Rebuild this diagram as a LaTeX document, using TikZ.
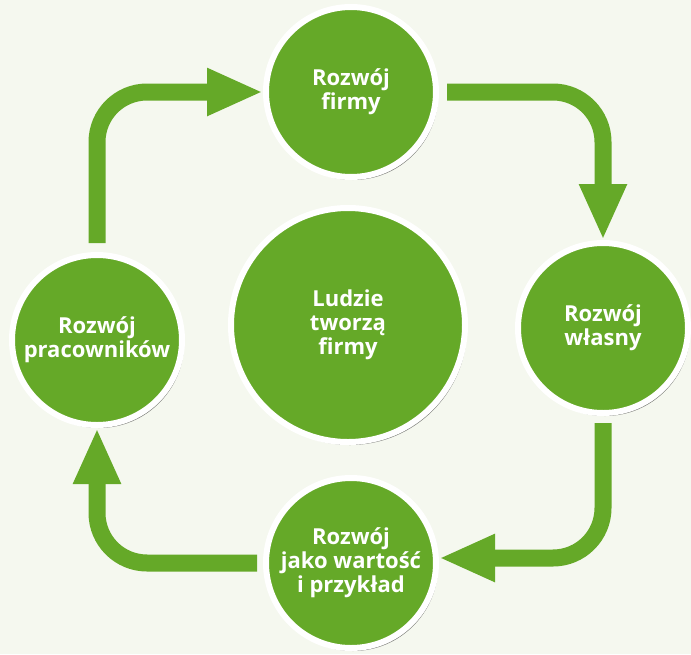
\documentclass[tikz,border=0pt]{standalone}
\usepackage{fontspec}
\setmainfont{Open Sans}
\usetikzlibrary{arrows.meta,shadows}
\definecolor{tlo}{HTML}{F5F8EF}
\definecolor{zielony}{HTML}{65A928}
\tikzset{
  krag/.style={circle, fill=zielony, draw=white, line width=6pt, inner sep=0pt,
    minimum size=#1, text=white, align=center,
    font=\fontsize{22}{24}\selectfont\bfseries,
    drop shadow={shadow xshift=2pt, shadow yshift=-3pt, fill=black, opacity=0.5}},
  krag/.default=170pt,
  strzalka/.style={draw=zielony, line width=17pt, rounded corners=50pt,
    -{Triangle[length=56pt, width=44pt]}}
}
\begin{document}
\begin{tikzpicture}[x=1pt, y=-1pt]
\fill[tlo] (0,0) rectangle (691,654);
\useasboundingbox (0,0) rectangle (691,654);

\node[krag] (firma) at (351,92) {Rozwój\\firmy};
\node[krag] (wlasny) at (603,328) {Rozwój\\własny};
\node[krag] (wartosc) at (351,563) {Rozwój\\jako wartość\\i przykład};
\node[krag] (pracownicy) at (97,340) {Rozwój\\pracowników};
\node[krag=234pt] (ludzie) at (348,325) {Ludzie\\tworzą\\firmy};

\draw[strzalka] ([yshift=9pt]pracownicy.north) |- (firma.west);
\draw[strzalka] ([xshift=8pt]firma.east) -| (wlasny.north);
\draw[strzalka] ([yshift=-7pt]wlasny.south) |- ([yshift=5pt]wartosc.east);
\draw[strzalka] ([xshift=-6pt]wartosc.west) -| (pracownicy.south);

\end{tikzpicture}
\end{document}
